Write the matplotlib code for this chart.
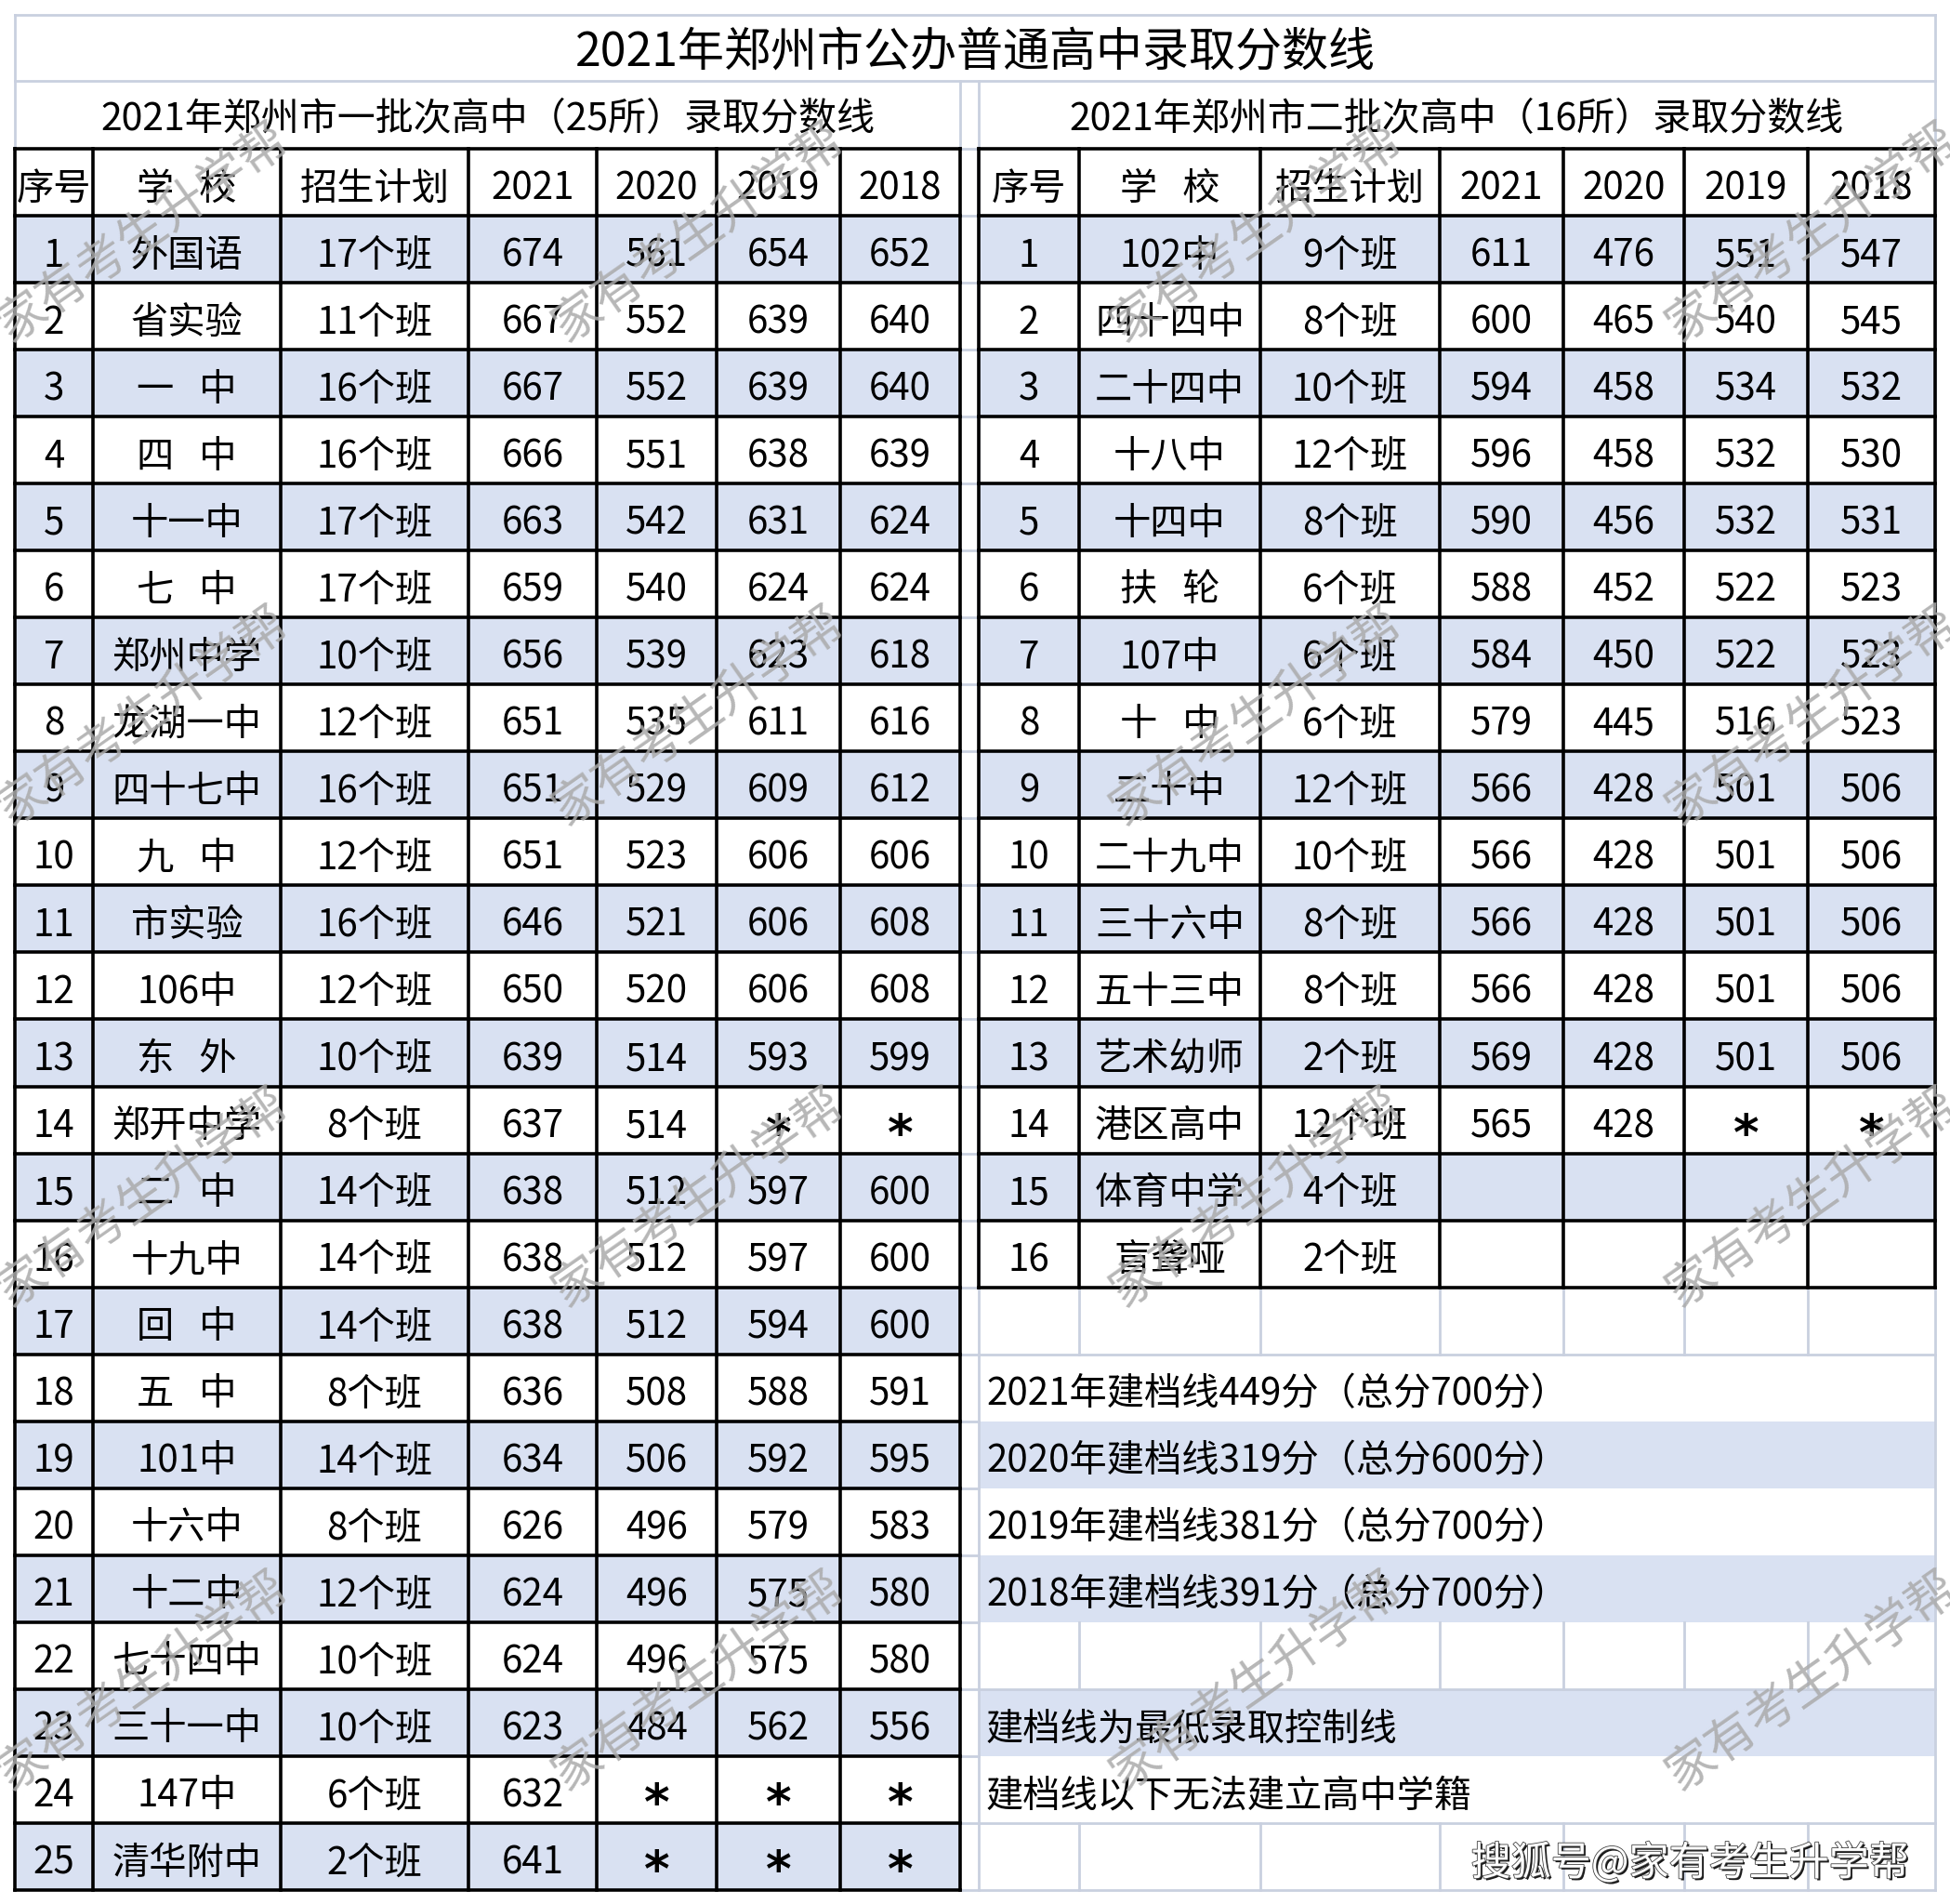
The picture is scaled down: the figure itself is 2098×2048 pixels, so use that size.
import matplotlib
matplotlib.use("Agg")
import matplotlib.pyplot as plt
import matplotlib.patheffects as pe
from matplotlib.patches import Rectangle

plt.rcParams['font.family'] = ['Noto Sans CJK SC', 'DejaVu Sans']
plt.rcParams['font.weight'] = 'medium'

# ---------------- data ----------------
title = "2021年郑州市公办普通高中录取分数线"
left_subtitle = "2021年郑州市一批次高中（25所）录取分数线"
right_subtitle = "2021年郑州市二批次高中（16所）录取分数线"
headers = ["序号", "学 校", "招生计划", "2021", "2020", "2019", "2018"]

left_schools = ["外国语", "省实验", "一 中", "四 中", "十一中", "七 中", "郑州中学", "龙湖一中",
                "四十七中", "九 中", "市实验", "106中", "东 外", "郑开中学", "二 中", "十九中",
                "回 中", "五 中", "101中", "十六中", "十二中", "七十四中", "三十一中", "147中", "清华附中"]
left_plan = ["17个班", "11个班", "16个班", "16个班", "17个班", "17个班", "10个班", "12个班",
             "16个班", "12个班", "16个班", "12个班", "10个班", "8个班", "14个班", "14个班",
             "14个班", "8个班", "14个班", "8个班", "12个班", "10个班", "10个班", "6个班", "2个班"]
left_2021 = ["674", "667", "667", "666", "663", "659", "656", "651", "651", "651", "646", "650", "639",
             "637", "638", "638", "638", "636", "634", "626", "624", "624", "623", "632", "641"]
left_2020 = ["561", "552", "552", "551", "542", "540", "539", "535", "529", "523", "521", "520", "514",
             "514", "512", "512", "512", "508", "506", "496", "496", "496", "484", "*", "*"]
left_2019 = ["654", "639", "639", "638", "631", "624", "623", "611", "609", "606", "606", "606", "593",
             "*", "597", "597", "594", "588", "592", "579", "575", "575", "562", "*", "*"]
left_2018 = ["652", "640", "640", "639", "624", "624", "618", "616", "612", "606", "608", "608", "599",
             "*", "600", "600", "600", "591", "595", "583", "580", "580", "556", "*", "*"]

right_schools = ["102中", "四十四中", "二十四中", "十八中", "十四中", "扶 轮", "107中", "十 中",
                 "二十中", "二十九中", "三十六中", "五十三中", "艺术幼师", "港区高中", "体育中学", "盲聋哑"]
right_plan = ["9个班", "8个班", "10个班", "12个班", "8个班", "6个班", "6个班", "6个班",
              "12个班", "10个班", "8个班", "8个班", "2个班", "12个班", "4个班", "2个班"]
right_2021 = ["611", "600", "594", "596", "590", "588", "584", "579", "566", "566", "566", "566", "569", "565", "", ""]
right_2020 = ["476", "465", "458", "458", "456", "452", "450", "445", "428", "428", "428", "428", "428", "428", "", ""]
right_2019 = ["551", "540", "534", "532", "532", "522", "522", "516", "501", "501", "501", "501", "501", "*", "", ""]
right_2018 = ["547", "545", "532", "530", "531", "523", "523", "523", "506", "506", "506", "506", "506", "*", "", ""]

notes_lines = ["2021年建档线449分（总分700分）", "2020年建档线319分（总分600分）",
               "2019年建档线381分（总分700分）", "2018年建档线391分（总分700分）"]
rule_lines = ["建档线为最低录取控制线", "建档线以下无法建立高中学籍"]
watermark = "家有考生升学帮"
source_mark = "搜狐号@家有考生升学帮"

# ---------------- layout ----------------
W, H = 2098, 2048
fig = plt.figure(figsize=(W / 100, H / 100), dpi=100)
ax = fig.add_axes([0, 0, 1, 1])
ax.set_xlim(0, W)
ax.set_ylim(H, 0)
ax.axis('off')

BLUE = '#D9E1F2'
GRID = '#C9D0DF'
BLACK = '#000000'
FS = 29
DY = 7
Y_TOP, Y_T2, Y_HDR, Y_DATA = 16, 87, 160, 232
ROW = (2033 - Y_DATA) / 25
LX = [16, 100, 302, 504, 642, 771, 904, 1033]
RX = [1053, 1161, 1356, 1549, 1682, 1812, 1945, 2082]


def rowy(i):
    return Y_DATA + i * ROW


def disp(s):
    return s.replace(" ", "   ")


def hline(y, x0, x1, c, lw):
    ax.plot([x0, x1], [y, y], color=c, lw=lw, solid_capstyle='projecting', zorder=3 if c == BLACK else 2)


def vline(x, y0, y1, c, lw):
    ax.plot([x, x], [y0, y1], color=c, lw=lw, solid_capstyle='projecting', zorder=3 if c == BLACK else 2)


def cell_text(x, y, s):
    if s == "*":
        ax.text(x, y - DY + 32, s, fontsize=38, family='DejaVu Sans', fontweight='bold',
                ha='center', va='baseline', zorder=5)
    else:
        ax.text(x, y, disp(s), fontsize=FS, ha='center', va='center', zorder=5)


# light spreadsheet grid for title / subtitle rows and gap column
hline(Y_TOP, LX[0], RX[-1], GRID, 2)
hline(Y_T2, LX[0], RX[-1], GRID, 2)
vline(LX[0], Y_TOP, Y_HDR, GRID, 2)
vline(RX[-1], Y_TOP, H - 15, GRID, 2)
vline(LX[-1], Y_T2, Y_HDR, GRID, 2)
vline(RX[0], Y_T2, H - 15, GRID, 2)
for i in range(26):
    hline(rowy(i), LX[-1], RX[0], GRID, 2)
hline(Y_HDR, LX[-1], RX[0], GRID, 2)

ax.text((LX[0] + RX[-1]) / 2, 57, title, fontsize=36, ha='center', va='center', zorder=5)
ax.text((LX[0] + LX[-1]) / 2, 129, left_subtitle, fontsize=29.5, ha='center', va='center', zorder=5)
ax.text((RX[0] + RX[-1]) / 2, 129, right_subtitle, fontsize=29.5, ha='center', va='center', zorder=5)


def draw_table(xs, n, cols):
    for i in range(n):
        if i % 2 == 0:
            ax.add_patch(Rectangle((xs[0], rowy(i)), xs[-1] - xs[0], ROW, color=BLUE, lw=0, zorder=1))
    for j, h in enumerate(headers):
        cell_text((xs[j] + xs[j + 1]) / 2, (Y_HDR + Y_DATA) / 2 + DY, h)
    for i in range(n):
        yc = rowy(i) + ROW / 2 + DY
        vals = [str(i + 1)] + [c[i] for c in cols]
        for j, v in enumerate(vals):
            if v:
                cell_text((xs[j] + xs[j + 1]) / 2, yc, v)
    hline(Y_HDR, xs[0], xs[-1], BLACK, 2.6)
    for i in range(n + 1):
        hline(rowy(i), xs[0], xs[-1], BLACK, 2.6)
    for x in xs:
        vline(x, Y_HDR, rowy(n), BLACK, 2.6)


draw_table(LX, 25, [left_schools, left_plan, left_2021, left_2020, left_2019, left_2018])
draw_table(RX, 16, [right_schools, right_plan, right_2021, right_2020, right_2019, right_2018])

# lower right area (spreadsheet rows 17-25)
for i in [18, 20, 22]:
    ax.add_patch(Rectangle((RX[0], rowy(i)), RX[-1] - RX[0], ROW, color=BLUE, lw=0, zorder=1))
for i in [16, 21, 24]:
    for x in RX[1:-1]:
        vline(x, rowy(i), rowy(i + 1), GRID, 2)
for i in [17, 22, 24, 25]:
    hline(rowy(i), RX[0], RX[-1], GRID, 2)
for k, s in enumerate(notes_lines):
    ax.text(RX[0] + 8, rowy(17 + k) + ROW / 2 + DY, s, fontsize=FS, ha='left', va='center', zorder=5)
for k, s in enumerate(rule_lines):
    ax.text(RX[0] + 8, rowy(22 + k) + ROW / 2 + DY, s, fontsize=FS, ha='left', va='center', zorder=5)

# watermarks
for yc in [250, 770, 1288, 1808]:
    for xc in [154, 752, 1352, 1950]:
        ax.text(xc, yc, watermark, fontsize=38, color='#AAAAAA', alpha=0.85, rotation=35,
                fontweight='normal', rotation_mode='anchor', ha='center', va='center', zorder=6)

ax.text(1818, 2005, source_mark, fontsize=31, color='white', ha='center', va='center', zorder=7,
        path_effects=[pe.SimplePatchShadow(offset=(1.5, -1.5), shadow_rgbFace='black', alpha=0.9),
                      pe.withStroke(linewidth=1.2, foreground='#444444')])

fig.savefig("out.png", dpi=100, facecolor='white')
